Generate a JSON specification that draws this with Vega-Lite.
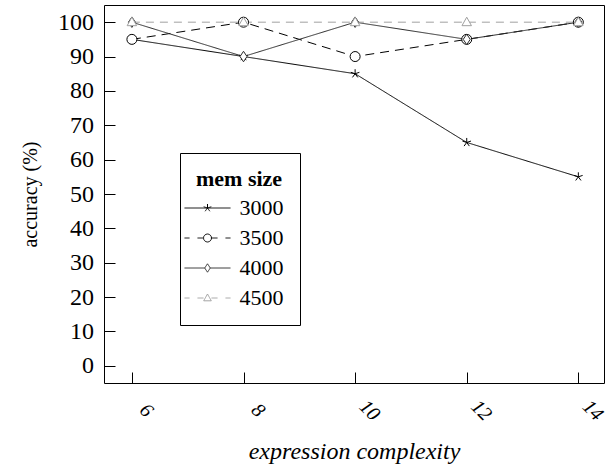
{
  "$schema": "https://vega.github.io/schema/vega-lite/v6.json",
  "width": 500,
  "height": 378,
  "autosize": "none",
  "padding": {"left": 104, "top": 5, "right": 3, "bottom": 93},
  "background": "white",
  "config": {
    "font": "Liberation Serif, Times New Roman, serif",
    "view": {"stroke": "black", "strokeWidth": 1},
    "axis": {
      "domain": false,
      "grid": false,
      "tickColor": "black",
      "tickSize": -11,
      "tickWidth": 1,
      "labelColor": "black",
      "titleColor": "black",
      "labelFont": "Liberation Serif, Times New Roman, serif",
      "titleFont": "Liberation Serif, Times New Roman, serif",
      "titleFontWeight": "normal"
    },
    "legend": {
      "labelFont": "Liberation Serif, Times New Roman, serif",
      "titleFont": "Liberation Serif, Times New Roman, serif"
    }
  },
  "data": {
    "values": [
      {"x": 6, "acc": 95, "mem": "3000"},
      {"x": 8, "acc": 90, "mem": "3000"},
      {"x": 10, "acc": 85, "mem": "3000"},
      {"x": 12, "acc": 65, "mem": "3000"},
      {"x": 14, "acc": 55, "mem": "3000"},
      {"x": 6, "acc": 95, "mem": "3500"},
      {"x": 8, "acc": 100, "mem": "3500"},
      {"x": 10, "acc": 90, "mem": "3500"},
      {"x": 12, "acc": 95, "mem": "3500"},
      {"x": 14, "acc": 100, "mem": "3500"},
      {"x": 6, "acc": 100, "mem": "4000"},
      {"x": 8, "acc": 90, "mem": "4000"},
      {"x": 10, "acc": 100, "mem": "4000"},
      {"x": 12, "acc": 95, "mem": "4000"},
      {"x": 14, "acc": 100, "mem": "4000"},
      {"x": 6, "acc": 100, "mem": "4500"},
      {"x": 8, "acc": 100, "mem": "4500"},
      {"x": 10, "acc": 100, "mem": "4500"},
      {"x": 12, "acc": 100, "mem": "4500"},
      {"x": 14, "acc": 100, "mem": "4500"}
    ]
  },
  "encoding": {
    "x": {
      "field": "x",
      "type": "quantitative",
      "scale": {"domain": [5.5, 14.46], "nice": false, "zero": false},
      "axis": {
        "values": [6, 8, 10, 12, 14],
        "labelAngle": 45,
        "labelAlign": "center",
        "labelBaseline": "middle",
        "labelOffset": 14,
        "labelPadding": 38,
        "labelFontStyle": "italic",
        "labelFontSize": 20,
        "title": "expression complexity",
        "titleFontStyle": "italic",
        "titleFontSize": 24,
        "titlePadding": 15
      }
    },
    "y": {
      "field": "acc",
      "type": "quantitative",
      "scale": {"domain": [-5, 105], "nice": false, "zero": false},
      "axis": {
        "values": [0, 10, 20, 30, 40, 50, 60, 70, 80, 90, 100],
        "labelPadding": 21.5,
        "labelFontSize": 24,
        "title": "accuracy (%)",
        "titleFontSize": 20,
        "titlePadding": 17
      }
    },
    "stroke": {
      "field": "mem",
      "type": "nominal",
      "scale": {
        "domain": ["3000", "3500", "4000", "4500"],
        "range": ["#000000", "#000000", "#2a2a2a", "#a0a0a0"]
      },
      "legend": {
        "orient": "none",
        "legendX": 76,
        "legendY": 148,
        "title": "mem size",
        "titleFontSize": 22,
        "titleFontWeight": "bold",
        "titleColor": "black",
        "titlePadding": 6,
        "labelFontSize": 22,
        "labelColor": "black",
        "strokeColor": "black",
        "fillColor": "white",
        "padding": 16,
        "rowPadding": 8,
        "symbolSize": 64,
        "symbolStrokeWidth": 1,
        "symbolOffset": 0.5,
        "labelOffset": 21,
        "encode": {
          "symbols": {
            "update": {
              "shape": {"signal": "datum.value == '3000' ? 'M-5.75,0L5.75,0M0,0L0,-1M0,0L-0.95,-0.31M0,0L-0.59,0.81M0,0L0.59,0.81M0,0L0.95,-0.31' : datum.value == '3500' ? 'M-5.75,0L-4.5,0M-2.5,0L-1,0M1,0L2.5,0M4.5,0L5.75,0M1,0L0.924,0.383L0.707,0.707L0.383,0.924L0,1L-0.383,0.924L-0.707,0.707L-0.924,0.383L-1,0L-0.924,-0.383L-0.707,-0.707L-0.383,-0.924L0,-1L0.383,-0.924L0.707,-0.707L0.924,-0.383Z' : datum.value == '4000' ? 'M-5.75,0L-0.7,0M0.7,0L5.75,0M0,-1.05L0.7,0L0,1.05L-0.7,0Z' : 'M-5.75,0L-4.5,0M-2.5,0L-1,0M1,0L2.5,0M4.5,0L5.75,0M0,-1L0.95,0.7L-0.95,0.7Z'"},
              "fill": {"value": "white"},
              "strokeDash": {"value": [1, 0]},
              "opacity": {"value": 1},
              "size": {"value": 64}
            }
          }
        }
      }
    }
  },
  "layer": [
    {
      "mark": {"type": "line", "strokeWidth": 1},
      "encoding": {
        "strokeDash": {
          "field": "mem",
          "type": "nominal",
          "scale": {
            "domain": ["4500", "4000", "3500", "3000"],
            "range": [[8, 6], [1, 0], [9, 6], [1, 0]]
          },
          "legend": null
        }
      }
    },
    {
      "mark": {"type": "point", "fill": "white", "strokeWidth": 1, "opacity": 1, "size": 100},
      "encoding": {
        "shape": {
          "field": "mem",
          "type": "nominal",
          "scale": {
            "domain": ["4500", "4000", "3500", "3000"],
            "range": [
              "M0,-1L0.95,0.7L-0.95,0.7Z",
              "M0,-1.05L0.7,0L0,1.05L-0.7,0Z",
              "circle",
              "M0,0L0,-0.9M0,0L-0.86,-0.28M0,0L-0.53,0.73M0,0L0.53,0.73M0,0L0.86,-0.28"
            ]
          },
          "legend": null
        }
      }
    }
  ]
}
